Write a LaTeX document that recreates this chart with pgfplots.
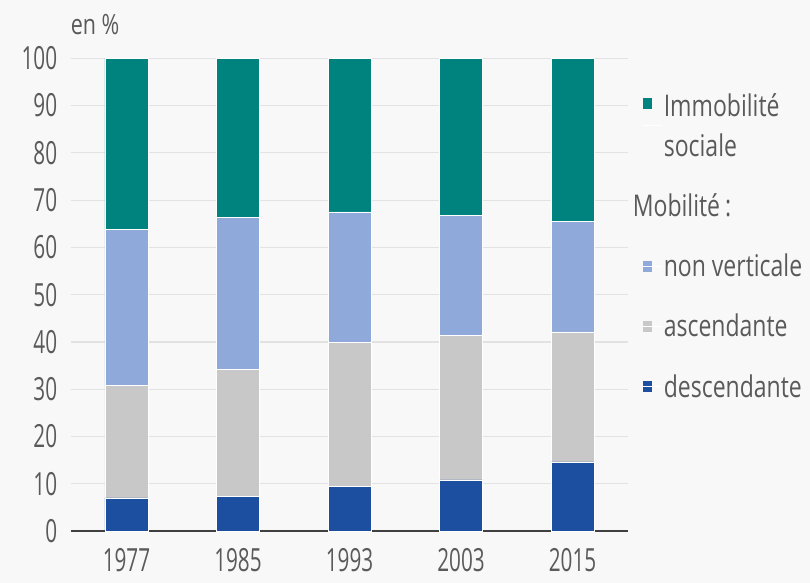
\documentclass[border=0pt]{standalone}
\usepackage{fontspec}
\setmainfont{Open Sans}[FakeStretch=0.77]
\newfontfamily\tickfont{Open Sans}[FakeStretch=0.65]
\usepackage{pgfplots}
\pgfplotsset{compat=1.18}
\definecolor{cImm}{HTML}{00827F}
\definecolor{cNon}{HTML}{8FAADA}
\definecolor{cAsc}{HTML}{C8C8C8}
\definecolor{cDesc}{HTML}{1C4FA0}
\definecolor{cBg}{HTML}{F8F8F8}
\definecolor{cGrid}{HTML}{E2E2E2}
\definecolor{cText}{HTML}{5A5A5A}
\pgfplotsset{
  sq/.style={legend image code/.code={\fill[##1,draw=none] (0bp,-5.5bp) rectangle (9bp,5.5bp); \path (0bp,0bp) -- (20bp,0bp);}},
  sqhigh/.style={legend image code/.code={\fill[##1,draw=none] (0bp,16.5bp) rectangle (9bp,27.5bp); \path (0bp,0bp) -- (20bp,0bp);}},
}
\begin{document}
\begin{tikzpicture}
\fill[cBg] (-70.7bp,-52bp) rectangle (739.3bp,531bp);
\begin{axis}[
  at={(0,0)}, anchor=south west, scale only axis,
  width=557.6bp, height=472.7bp,
  ybar stacked, bar width=43bp,
  xmin=-0.5, xmax=4.5, ymin=0, ymax=100,
  xtick={0,1,2,3,4}, xticklabels={1977,1985,1993,2003,2015},
  ytick={0,10,...,100},
  ymajorgrids, grid style={cGrid, line width=1.2bp},
  axis x line*=bottom, axis y line*=left,
  y axis line style={draw=none},
  x axis line style={draw=black!75, line width=1.5bp},
  major tick length=0pt,
  /pgf/number format/assume math mode=true,
  yticklabel style={font=\tickfont\fontsize{32}{36}\selectfont, text=cText, inner sep=0pt, anchor=east, xshift=-13.4bp},
  xticklabel style={font=\tickfont\fontsize{32}{36}\selectfont, text=cText, inner sep=0pt, anchor=north, yshift=-17bp},
  clip=false,
  reverse legend,
  legend cell align=left,
  legend style={draw=none, fill=none, at={(1.0264,0.926)}, anchor=north west,
    inner sep=0pt, outer sep=0pt, row sep=36bp,
    font=\fontsize{30}{40}\selectfont, text=cText,
    nodes={inner sep=0pt, align=left}},
]
\addplot[fill=cDesc, draw=white, line width=0.8bp, sq] coordinates {(0,7.0) (1,7.4) (2,9.4) (3,10.8) (4,14.6)};
\addlegendentry{descendante}
\addplot[fill=cAsc, draw=white, line width=0.8bp, sq] coordinates {(0,23.8) (1,26.8) (2,30.5) (3,30.6) (4,27.5)};
\addlegendentry{ascendante}
\addplot[fill=cNon, draw=white, line width=0.8bp, sq] coordinates {(0,33.0) (1,32.1) (2,27.6) (3,25.3) (4,23.3)};
\addlegendentry{non verticale}
\addlegendimage{draw=none, fill=none, legend image code/.code={\path (0bp,0bp) -- (20bp,0bp);}}
\addlegendentry{\hspace*{-31bp}Mobilité\,:}
\addplot[fill=cImm, draw=white, line width=0.8bp, sqhigh] coordinates {(0,36.2) (1,33.7) (2,32.5) (3,33.3) (4,34.6)};
\addlegendentry{Immobilité\\sociale}
\node[anchor=base west, inner sep=0pt, font=\fontsize{28}{32}\selectfont, text=cText] at ([yshift=24bp]rel axis cs:0,1) {en \%};
\end{axis}
\pgfresetboundingbox
\path (-70.7bp,-52bp) rectangle (739.3bp,531bp);
\end{tikzpicture}
\end{document}
